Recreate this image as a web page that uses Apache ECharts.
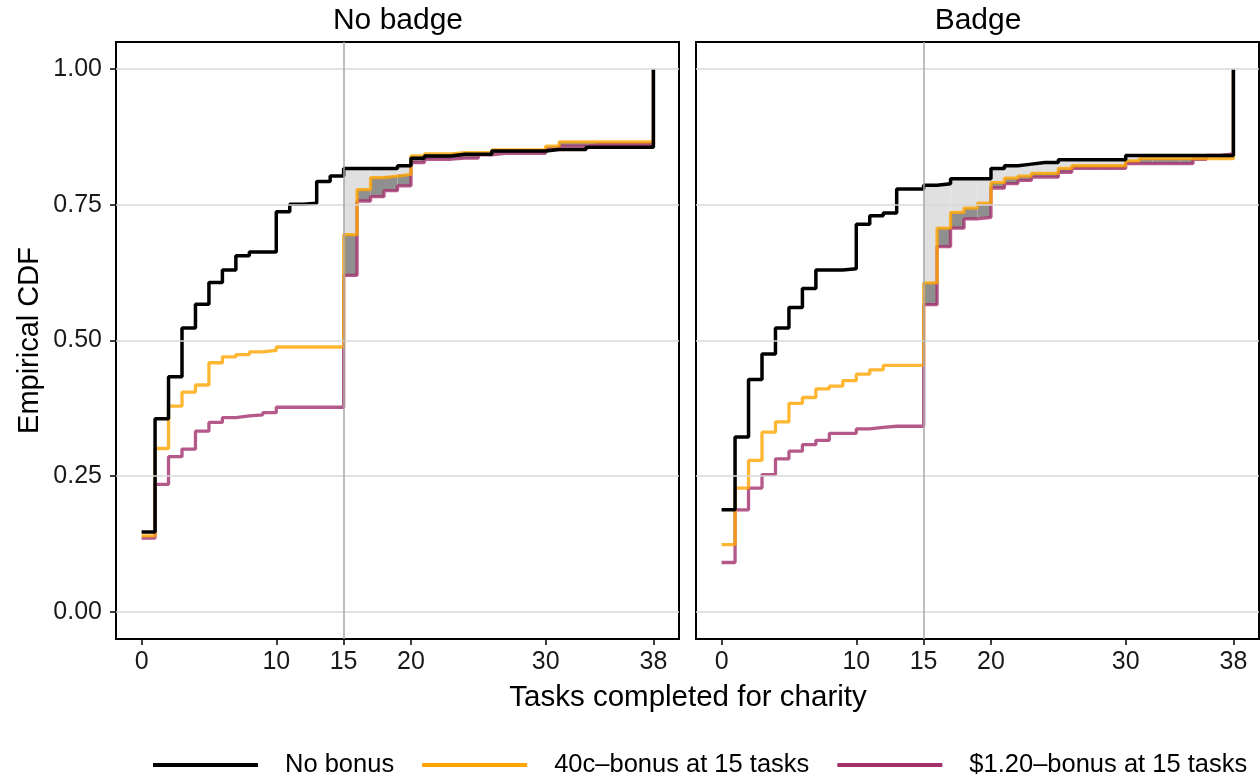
<!DOCTYPE html>
<html>
<head>
<meta charset="utf-8">
<script src="https://cdn.jsdelivr.net/npm/echarts@6/dist/echarts.min.js"></script>
<style>html,body{margin:0;padding:0;background:#fff}#chart{width:1260px;height:777px}</style>
</head>
<body>
<div id="chart"></div>
<script>
// ---------------- data ----------------
const tasks = Array.from({length: 39}, (_, i) => i); // 0..38 tasks
const xTicks = [0, 10, 15, 20, 30, 38];
const yTicks = [0, 0.25, 0.5, 0.75, 1];
const yTickLabels = ['0.00', '0.25', '0.50', '0.75', '1.00'];
const panelTitles = ['No badge', 'Badge'];
const groupNames = ['No bonus', '40c\u2013bonus at 15 tasks', '$1.20\u2013bonus at 15 tasks'];
const bonusThreshold = 15;

// No badge panel
const noBadgeNoBonus = [0.147,0.356,0.433,0.523,0.567,0.607,0.630,0.656,0.663,0.663,
  0.737,0.751,0.753,0.793,0.803,0.817,0.817,0.817,0.817,0.822,
  0.836,0.840,0.840,0.843,0.843,0.843,0.849,0.849,0.849,0.849,
  0.852,0.852,0.852,0.856,0.856,0.856,0.856,0.856,1.000];
const noBadge40c = [0.140,0.301,0.379,0.405,0.418,0.459,0.470,0.474,0.479,0.482,
  0.488,0.488,0.488,0.488,0.488,0.695,0.778,0.800,0.803,0.806,
  0.840,0.844,0.844,0.846,0.846,0.846,0.851,0.851,0.851,0.851,
  0.858,0.866,0.866,0.866,0.866,0.866,0.866,0.866,1.000];
const noBadge120 = [0.136,0.235,0.286,0.300,0.333,0.349,0.358,0.361,0.363,0.367,
  0.377,0.377,0.377,0.377,0.377,0.620,0.757,0.765,0.776,0.785,
  0.828,0.834,0.834,0.836,0.836,0.842,0.845,0.845,0.845,0.845,
  0.852,0.858,0.858,0.861,0.861,0.861,0.861,0.861,1.000];

// Badge panel
const badgeNoBonus = [0.188,0.322,0.428,0.475,0.523,0.561,0.596,0.630,0.630,0.632,
  0.714,0.730,0.735,0.779,0.779,0.786,0.789,0.798,0.798,0.798,
  0.817,0.822,0.825,0.828,0.828,0.833,0.833,0.833,0.833,0.833,
  0.841,0.841,0.841,0.841,0.841,0.841,0.841,0.841,1.000];
const badge40c = [0.124,0.228,0.279,0.331,0.350,0.384,0.395,0.411,0.416,0.426,
  0.438,0.446,0.454,0.454,0.454,0.606,0.707,0.736,0.744,0.753,
  0.791,0.799,0.803,0.808,0.808,0.817,0.822,0.822,0.822,0.822,
  0.831,0.835,0.835,0.835,0.835,0.835,0.835,0.835,1.000];
const badge120 = [0.091,0.188,0.228,0.253,0.282,0.296,0.308,0.316,0.329,0.329,
  0.337,0.340,0.342,0.342,0.342,0.566,0.673,0.707,0.724,0.727,
  0.781,0.789,0.795,0.801,0.801,0.810,0.817,0.817,0.817,0.817,
  0.826,0.826,0.826,0.826,0.826,0.834,0.841,0.844,1.000];

// ---------------- styling ----------------
const FONT = '"Liberation Sans", Arial, sans-serif';
const colors = ['#000000', '#ffa500', '#a3306d'];
const lineWidths = [3.5, 3.3, 3.3];
const lineOpacity = [1, 0.8, 0.8];
const panelData = [
  [noBadgeNoBonus, noBadge40c, noBadge120],
  [badgeNoBonus, badge40c, badge120]
];
const gridLefts = [116, 696];

function pairs(vals) { return tasks.map((t, i) => [t, vals[i]]); }
function bands(hi, lo) {
  const out = [];
  for (let i = bonusThreshold; i < tasks.length - 1; i++) {
    if (hi[i] > lo[i]) out.push([tasks[i], tasks[i + 1], lo[i], hi[i]]);
  }
  return out;
}
function rectRenderer(fill) {
  return function (params, api) {
    const a = api.coord([api.value(0), api.value(3)]);
    const b = api.coord([api.value(1), api.value(2)]);
    return { type: 'rect', shape: { x: a[0], y: a[1], width: b[0] - a[0], height: b[1] - a[1] },
             style: { fill: fill } };
  };
}

const grids = [], xAxes = [], yAxes = [], series = [];
panelData.forEach((groups, p) => {
  grids.push({ left: gridLefts[p], top: 42, width: 563, height: 597, show: true,
    borderColor: '#000', borderWidth: 2, backgroundColor: '#fff' });
  xAxes.push({ type: 'value', gridIndex: p, min: -1.9, max: 39.9, position: 'bottom',
    axisLine: { show: false, onZero: false }, splitLine: { show: false },
    axisTick: { show: true, customValues: xTicks, length: 6, lineStyle: { color: '#000', width: 1.5 } },
    axisLabel: { customValues: xTicks, margin: 11, fontFamily: FONT, fontSize: 25, color: '#1a1a1a' } });
  yAxes.push({ type: 'value', gridIndex: p, min: -0.05, max: 1.05, position: 'left',
    axisLine: { show: false, onZero: false }, splitLine: { show: false },
    name: p === 0 ? 'Empirical CDF' : '', nameLocation: 'middle', nameGap: 72,
    nameTextStyle: { fontFamily: FONT, fontSize: 29, color: '#000' },
    axisTick: { show: p === 0, customValues: yTicks, length: 6, lineStyle: { color: '#000', width: 1.5 } },
    axisLabel: { show: p === 0, customValues: yTicks, margin: 14, fontFamily: FONT, fontSize: 25, color: '#1a1a1a',
      formatter: v => yTickLabels[yTicks.indexOf(v)] ?? v.toFixed(2) } });

  // reference lines (horizontal grid + vertical at threshold)
  series.push({ type: 'line', name: 'ref' + p, xAxisIndex: p, yAxisIndex: p, data: [], silent: true, z: 0,
    markLine: { silent: true, symbol: 'none', label: { show: false }, animation: false,
      data: yTicks.map(v => ({ yAxis: v, lineStyle: { color: '#d9d9d9', width: 1.5, type: 'solid' } }))
        .concat([{ xAxis: bonusThreshold, lineStyle: { color: '#a8a8a8', width: 1.5, type: 'solid' } }]) } });

  // shaded bands
  series.push({ type: 'custom', name: 'band1_' + p, xAxisIndex: p, yAxisIndex: p, z: 1, silent: true,
    encode: { x: [0, 1], y: [2, 3] }, data: bands(groups[0], groups[1]), renderItem: rectRenderer('#e0e0e0') });
  series.push({ type: 'custom', name: 'band2_' + p, xAxisIndex: p, yAxisIndex: p, z: 1, silent: true,
    encode: { x: [0, 1], y: [2, 3] }, data: bands(groups[1], groups[2]), renderItem: rectRenderer('#8f8f8f') });

  // ECDF step lines: draw purple, orange, black (black on top)
  [2, 1, 0].forEach(g => {
    series.push({ type: 'line', name: groupNames[g], xAxisIndex: p, yAxisIndex: p, z: 2 + (2 - g),
      data: pairs(groups[g]), step: 'end', showSymbol: false, symbol: 'none',
      lineStyle: { color: colors[g], width: lineWidths[g], opacity: lineOpacity[g] },
      itemStyle: { color: colors[g] } });
  });
});

const chart = echarts.init(document.getElementById('chart'), null, { renderer: 'canvas' });
chart.setOption({
  animation: false,
  backgroundColor: '#fff',
  grid: grids, xAxis: xAxes, yAxis: yAxes, series: series,
  legend: { data: groupNames, left: 148, top: 747, orient: 'horizontal', icon: 'rect',
    itemWidth: 105, itemHeight: 4, itemGap: 28, selectedMode: false,
    textStyle: { fontFamily: FONT, fontSize: 25.5, color: '#000', padding: [0, 0, 0, 22] } },
  graphic: [
    { type: 'text', x: 398, y: 21, style: { text: panelTitles[0], font: '30px ' + FONT, fill: '#000', align: 'center', verticalAlign: 'middle' } },
    { type: 'text', x: 978, y: 21, style: { text: panelTitles[1], font: '30px ' + FONT, fill: '#000', align: 'center', verticalAlign: 'middle' } },
    { type: 'text', x: 688, y: 698, style: { text: 'Tasks completed for charity', font: '29.5px ' + FONT, fill: '#000', align: 'center', verticalAlign: 'middle' } }
  ]
});
</script>
</body>
</html>
